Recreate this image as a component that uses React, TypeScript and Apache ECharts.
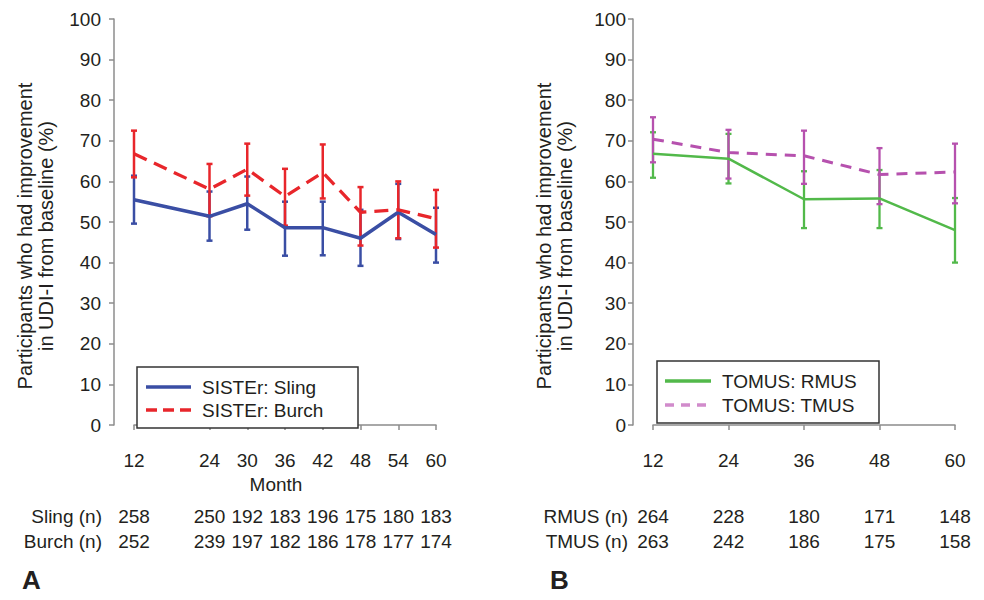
import React, { useEffect, useRef } from "react";
import * as echarts from "echarts";

// ---------- data ----------
const sisterMonths = [12, 24, 30, 36, 42, 48, 54, 60];
const slingPct = [55.5, 51.4, 54.5, 48.6, 48.6, 46.0, 52.4, 46.9];
const slingLow = [49.6, 45.4, 48.1, 41.7, 41.8, 39.2, 45.8, 40.0];
const slingHigh = [61.4, 57.5, 61.2, 55.0, 55.0, 53.0, 59.4, 53.5];
const burchPct = [66.8, 58.1, 63.0, 56.3, 62.2, 52.4, 53.0, 50.8];
const burchLow = [61.0, 51.4, 56.5, 49.1, 55.8, 44.2, 46.0, 43.7];
const burchHigh = [72.5, 64.3, 69.3, 63.1, 69.1, 58.6, 60.0, 57.9];
const slingN = [258, 250, 192, 183, 196, 175, 180, 183];
const burchN = [252, 239, 197, 182, 186, 178, 177, 174];

const tomusMonths = [12, 24, 36, 48, 60];
const rmusPct = [66.8, 65.6, 55.6, 55.8, 48.0];
const rmusLow = [60.9, 59.5, 48.5, 48.5, 40.0];
const rmusHigh = [72.1, 71.7, 62.5, 62.8, 55.9];
const tmusPct = [70.4, 67.1, 66.3, 61.7, 62.3];
const tmusLow = [64.7, 60.7, 59.4, 54.4, 54.6];
const tmusHigh = [75.8, 72.7, 72.5, 68.2, 69.3];
const rmusN = [264, 228, 180, 171, 148];
const tmusN = [263, 242, 186, 175, 158];

const yTicks = { min: 0, max: 100, interval: 10 };
const yTitle = "Participants who had improvement\nin UDI-I from baseline (%)";

// ---------- styles ----------
const FONT = "'Liberation Sans', Arial, Helvetica, sans-serif";
const TXT = "#231f20";
const AXC = "#8c8c8c";
const BLUE = "#3a4ea4";
const RED = "#e8262b";
const GREEN = "#52b94a";
const MAGENTA = "#b651ae";
const FS = 19;

const pairs = (xs: number[], ys: number[]) => xs.map((x, i) => [x, ys[i]]);
const triples = (xs: number[], lo: number[], hi: number[]) =>
  xs.map((x, i) => [x, lo[i], hi[i]]);

const errRender = (color: string, lw: number) => (params: any, api: any) => {
  const x = api.value(0);
  const top = api.coord([x, api.value(2)]);
  const bot = api.coord([x, api.value(1)]);
  const w = 3;
  const st = { stroke: color, lineWidth: lw };
  return {
    type: "group",
    children: [
      { type: "line", shape: { x1: top[0], y1: top[1], x2: bot[0], y2: bot[1] }, style: st },
      { type: "line", shape: { x1: top[0] - w, y1: top[1], x2: top[0] + w, y2: top[1] }, style: st },
      { type: "line", shape: { x1: bot[0] - w, y1: bot[1], x2: bot[0] + w, y2: bot[1] }, style: st },
    ],
  };
};

const mainX = (gridIndex: number, months: number[], name: string) => ({
  type: "value",
  gridIndex,
  min: 12,
  max: 60,
  offset: 18,
  position: "bottom",
  name,
  nameLocation: "middle",
  nameGap: 28,
  nameTextStyle: { fontSize: FS, color: TXT, fontFamily: FONT, padding: [0, 18, 0, 0] },
  axisLine: { show: true, lineStyle: { color: AXC, width: 1.5 } },
  axisTick: { show: true, length: 5, customValues: months, lineStyle: { color: AXC, width: 1.5 } },
  axisLabel: { customValues: months, fontSize: FS, color: TXT, fontFamily: FONT, margin: 8 },
  splitLine: { show: false },
});

const tableX = (gridIndex: number, months: number[], counts: number[], name: string, offset: number, gap: number) => ({
  type: "value",
  gridIndex,
  min: 12,
  max: 60,
  offset,
  position: "bottom",
  name,
  nameLocation: "start",
  nameGap: gap,
  nameTextStyle: { fontSize: FS, color: TXT, fontFamily: FONT },
  axisLine: { show: false },
  axisTick: { show: false },
  axisLabel: {
    customValues: months,
    formatter: (v: number) => String(counts[months.indexOf(v)]),
    fontSize: FS,
    color: TXT,
    fontFamily: FONT,
    margin: 0,
    verticalAlign: "middle",
  },
  splitLine: { show: false },
});

const mainY = (gridIndex: number, labelMargin: number) => ({
  type: "value",
  gridIndex,
  ...yTicks,
  offset: 20,
  name: yTitle,
  nameLocation: "middle",
  nameRotate: 90,
  nameGap: 58,
  nameTextStyle: { fontSize: 20, color: TXT, fontFamily: FONT, lineHeight: 21, padding: [0, 28, 0, 0] },
  axisLine: { show: true, lineStyle: { color: AXC, width: 1.5 } },
  axisTick: { show: true, length: 5, lineStyle: { color: AXC, width: 1.5 } },
  axisLabel: { fontSize: FS, color: TXT, fontFamily: FONT, margin: labelMargin },
  splitLine: { show: false },
});

const legendBox = (x: number, y: number, w: number, h: number, items: { c: string; dash: number[] | null; t: string; lw: number }[], rowY: number[], lineX: number, lineW: number, textX: number) => [
  { type: "rect", shape: { x, y, width: w, height: h }, style: { fill: "#fff", stroke: "#333", lineWidth: 1.5 }, z: 100 },
  ...items.flatMap((it, i) => [
    {
      type: "line",
      shape: { x1: lineX, y1: rowY[i], x2: lineX + lineW, y2: rowY[i] },
      style: { stroke: it.c, lineWidth: it.lw, lineDash: it.dash || undefined },
      z: 101,
    },
    {
      type: "text",
      x: textX,
      y: rowY[i],
      style: { text: it.t, fontSize: FS, fill: TXT, fontFamily: FONT, verticalAlign: "middle", align: "left" },
      z: 101,
    },
  ]),
];

export default function App() {
  const ref = useRef<HTMLDivElement>(null);
  useEffect(() => {
    if (!ref.current) return;
    const chart = echarts.init(ref.current, undefined, { renderer: "svg" });
    chart.setOption({
      animation: false,
      backgroundColor: "#fff",
      textStyle: { fontFamily: FONT },
      grid: [
        { left: 134, top: 19, width: 302, height: 406 },
        { left: 653, top: 19, width: 302, height: 406 },
      ],
      xAxis: [
        mainX(0, sisterMonths, "Month"),
        tableX(0, sisterMonths, slingN, "Sling (n)", 91, 32),
        tableX(0, sisterMonths, burchN, "Burch (n)", 116, 32),
        mainX(1, tomusMonths, ""),
        tableX(1, tomusMonths, rmusN, "RMUS (n)", 91, 25),
        tableX(1, tomusMonths, tmusN, "TMUS (n)", 116, 25),
      ],
      yAxis: [mainY(0, 13), mainY(1, 7)],
      series: [
        { type: "custom", xAxisIndex: 0, yAxisIndex: 0, renderItem: errRender(BLUE, 2.5), encode: { x: 0, y: [1, 2] }, data: triples(sisterMonths, slingLow, slingHigh), z: 2 },
        { type: "custom", xAxisIndex: 0, yAxisIndex: 0, renderItem: errRender(RED, 2.5), encode: { x: 0, y: [1, 2] }, data: triples(sisterMonths, burchLow, burchHigh), z: 3 },
        { type: "line", name: "SISTEr: Sling", xAxisIndex: 0, yAxisIndex: 0, data: pairs(sisterMonths, slingPct), symbol: "none", lineStyle: { color: BLUE, width: 3.5 }, z: 4 },
        { type: "line", name: "SISTEr: Burch", xAxisIndex: 0, yAxisIndex: 0, data: pairs(sisterMonths, burchPct), symbol: "none", lineStyle: { color: RED, width: 3.3, type: [14, 8] }, z: 5 },
        { type: "custom", xAxisIndex: 3, yAxisIndex: 1, renderItem: errRender(GREEN, 2.3), encode: { x: 0, y: [1, 2] }, data: triples(tomusMonths, rmusLow, rmusHigh), z: 2 },
        { type: "custom", xAxisIndex: 3, yAxisIndex: 1, renderItem: errRender(MAGENTA, 2.3), encode: { x: 0, y: [1, 2] }, data: triples(tomusMonths, tmusLow, tmusHigh), z: 3 },
        { type: "line", name: "TOMUS: RMUS", xAxisIndex: 3, yAxisIndex: 1, data: pairs(tomusMonths, rmusPct), symbol: "none", lineStyle: { color: GREEN, width: 2.5 }, z: 4 },
        { type: "line", name: "TOMUS: TMUS", xAxisIndex: 3, yAxisIndex: 1, data: pairs(tomusMonths, tmusPct), symbol: "none", lineStyle: { color: MAGENTA, width: 3, type: [11, 8] }, z: 5 },
      ],
      graphic: [
        ...legendBox(137, 367, 221, 61, [
          { c: BLUE, dash: null, t: "SISTEr: Sling", lw: 3.5 },
          { c: RED, dash: [11, 6], t: "SISTEr: Burch", lw: 3.5 },
        ], [387, 410], 146, 45, 202),
        ...legendBox(657, 361, 222, 62, [
          { c: GREEN, dash: null, t: "TOMUS: RMUS", lw: 3.5 },
          { c: "#d18bcb", dash: [9, 7], t: "TOMUS: TMUS", lw: 3.5 },
        ], [381, 405], 665, 46, 722),
        { type: "text", x: 22, y: 580, style: { text: "A", fontSize: 26, fontWeight: "bold", fill: TXT, fontFamily: FONT, verticalAlign: "middle" } },
        { type: "text", x: 550, y: 580, style: { text: "B", fontSize: 26, fontWeight: "bold", fill: TXT, fontFamily: FONT, verticalAlign: "middle" } },
      ],
    });
    return () => chart.dispose();
  }, []);
  return <div ref={ref} style={{ position: "fixed", left: 0, top: 0, width: 984, height: 600 }} />;
}
